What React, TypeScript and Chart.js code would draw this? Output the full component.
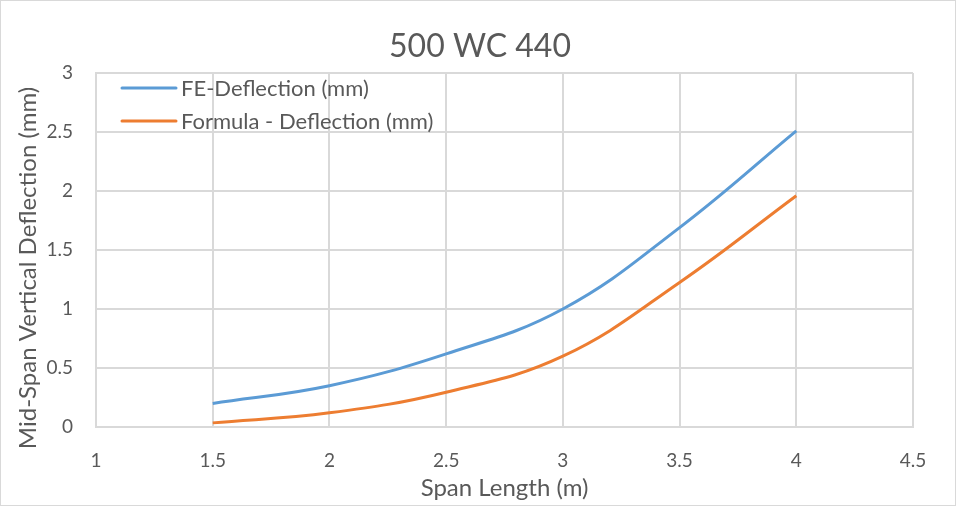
import React, { useEffect, useRef } from "react";
import { Chart, registerables } from "chart.js";

Chart.register(...registerables);

const chartTitle = "500 WC 440";
const xAxisTitle = "Span Length (m)";
const yAxisTitle = "Mid-Span Vertical Deflection (mm)";
const seriesNames = ["FE-Deflection (mm)", "Formula - Deflection (mm)"];
const spanLength = [1.5, 2, 2.5, 3, 3.5, 4];
const feDeflection = [0.2, 0.35, 0.62, 1.0, 1.69, 2.51];
const formulaDeflection = [0.035, 0.12, 0.295, 0.6, 1.225, 1.96];
const seriesColors = ["#5B9BD5", "#ED7D31"];

const FONT = "Lato, 'Open Sans', sans-serif";
const TEXT = "#595959";
const GRID = "#d9d9d9";

const frame = {
  id: "frame",
  afterDraw(chart: any) {
    const { ctx, width, height } = chart;
    ctx.save();
    ctx.strokeStyle = GRID;
    ctx.lineWidth = 1;
    ctx.strokeRect(0.5, 0.5, width - 1, height - 1);
    ctx.restore();
  },
};

const titles = {
  id: "titles",
  afterDraw(chart: any) {
    const { ctx, width } = chart;
    ctx.save();
    ctx.fillStyle = TEXT;
    ctx.textAlign = "center";
    ctx.textBaseline = "middle";
    ctx.font = `32px ${FONT}`;
    ctx.fillText(chartTitle, width / 2 + 2, 47);
    ctx.translate(28, 268);
    ctx.rotate(-Math.PI / 2);
    ctx.font = `24px ${FONT}`;
    ctx.fillText(yAxisTitle, 0, 0);
    ctx.restore();
  },
};

const insideLegend = {
  id: "insideLegend",
  afterDraw(chart: any) {
    const { ctx, chartArea } = chart;
    ctx.save();
    ctx.font = `22px ${FONT}`;
    ctx.textBaseline = "middle";
    ctx.fillStyle = TEXT;
    chart.data.datasets.forEach((ds: any, i: number) => {
      const y = chartArea.top + 15 + i * 33;
      const x0 = chartArea.left + 26;
      ctx.strokeStyle = ds.borderColor;
      ctx.lineWidth = 3;
      ctx.lineCap = "round";
      ctx.beginPath();
      ctx.moveTo(x0, y);
      ctx.lineTo(x0 + 54, y);
      ctx.stroke();
      ctx.fillText(ds.label, x0 + 59, y + 1);
    });
    ctx.restore();
  },
};

const fmt = (v: any) => String(Number(v));

export default function App() {
  const ref = useRef<HTMLCanvasElement>(null);
  useEffect(() => {
    if (!ref.current) return;
    const toPts = (ys: number[]) => spanLength.map((x, i) => ({ x, y: ys[i] }));
    const chart = new Chart(ref.current, {
      type: "line",
      data: {
        datasets: [
          {
            label: seriesNames[0],
            data: toPts(feDeflection),
            borderColor: seriesColors[0],
            backgroundColor: seriesColors[0],
            borderWidth: 3,
            pointRadius: 0,
            tension: 0.4,
            fill: false,
          },
          {
            label: seriesNames[1],
            data: toPts(formulaDeflection),
            borderColor: seriesColors[1],
            backgroundColor: seriesColors[1],
            borderWidth: 3,
            pointRadius: 0,
            tension: 0.4,
            fill: false,
          },
        ],
      },
      options: {
        animation: false,
        responsive: false,
        devicePixelRatio: 1,
        layout: { padding: { top: 73, right: 43, bottom: 0, left: 0 } },
        plugins: {
          legend: { display: false },
          tooltip: { enabled: false },
          title: { display: false },
        },
        scales: {
          x: {
            type: "linear",
            min: 1,
            max: 4.5,
            afterFit: (s: any) => {
              s.height = 79;
            },
            ticks: {
              stepSize: 0.5,
              color: TEXT,
              font: { family: FONT, size: 19 },
              padding: 22,
              maxRotation: 0,
              callback: fmt,
            },
            grid: { color: GRID, lineWidth: 2, drawTicks: false },
            border: { color: GRID, width: 2 },
            title: {
              display: true,
              text: xAxisTitle,
              color: TEXT,
              font: { family: FONT, size: 24 },
              padding: { top: 0, bottom: 3 },
            },
          },
          y: {
            min: 0,
            max: 3,
            afterFit: (s: any) => {
              s.width = 96;
            },
            ticks: {
              stepSize: 0.5,
              color: TEXT,
              font: { family: FONT, size: 19 },
              padding: 23,
              callback: fmt,
            },
            grid: { color: GRID, lineWidth: 2, drawTicks: false },
            border: { color: GRID, width: 2 },
            title: { display: false },
          },
        },
      },
      plugins: [insideLegend, titles, frame],
    });
    return () => chart.destroy();
  }, []);
  return (
    <div style={{ position: "fixed", left: 0, top: 0, width: 956, height: 506, background: "#fff" }}>
      <canvas ref={ref} width={956} height={506} style={{ display: "block", width: 956, height: 506 }} />
    </div>
  );
}
